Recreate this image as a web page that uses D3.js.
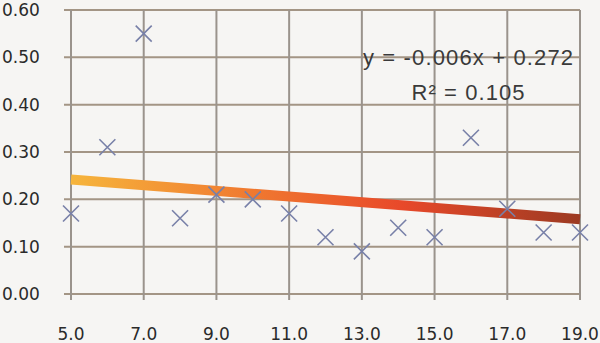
<!DOCTYPE html>
<html>
<head>
<meta charset="utf-8">
<script src="https://cdn.jsdelivr.net/npm/d3@7/dist/d3.min.js"></script>
<style>
  body { margin: 0; background: #f6f5f3; }
  svg { display: block; }
</style>
</head>
<body>
<div id="chart"></div>
<script>
// data
const xValues = [5, 6, 7, 8, 9, 10, 11, 12, 13, 14, 15, 16, 17, 18, 19];
const yValues = [0.17, 0.31, 0.55, 0.16, 0.21, 0.20, 0.17, 0.12, 0.09, 0.14, 0.12, 0.33, 0.18, 0.13, 0.13];
const xTicks = [5, 7, 9, 11, 13, 15, 17, 19];
const yTicks = [0, 0.1, 0.2, 0.3, 0.4, 0.5, 0.6];
const trendSlope = -0.006;
const trendIntercept = 0.272;
const equationLines = ["y = -0.006x + 0.272", "R\u00b2 = 0.105"];

const w = 600;
const h = 343;

const x = d3.scaleLinear().domain([5, 19]).range([71, 580]);
const y = d3.scaleLinear().domain([0, 0.6]).range([294, 10]);

const svg = d3.select("#chart")
      .append("svg")
      .attr("width", w)
      .attr("height", h)
      .style("background-color", "#f6f5f3");

//grid
svg.selectAll(".hgrid")
      .data(yTicks)
      .enter()
      .append("line")
      .attr("x1", x(5) - 7)
      .attr("x2", x(19))
      .attr("y1", (d) => y(d))
      .attr("y2", (d) => y(d))
      .style("stroke", "#a39585")
      .style("stroke-width", 2);

svg.selectAll(".vgrid")
      .data(xTicks)
      .enter()
      .append("line")
      .attr("x1", (d) => x(d))
      .attr("x2", (d) => x(d))
      .attr("y1", y(0.6))
      .attr("y2", y(0) + 6)
      .style("stroke", "#9a938c")
      .style("stroke-width", 2);

//axis labels
svg.selectAll(".ylab")
      .data(yTicks)
      .enter()
      .append("text")
      .attr("x", 2)
      .attr("y", (d) => y(d))
      .attr("dy", "0.36em")
      .style("font-family", "DejaVu Sans")
      .style("font-size", "17px")
      .style("fill", "#2a2a2a")
      .text((d) => d3.format(".2f")(d));

svg.selectAll(".xlab")
      .data(xTicks)
      .enter()
      .append("text")
      .attr("x", (d) => x(d))
      .attr("y", 340)
      .attr("text-anchor", "middle")
      .style("font-family", "DejaVu Sans")
      .style("font-size", "17px")
      .style("fill", "#2a2a2a")
      .text((d) => d3.format(".1f")(d));

//trend line with gradient
const grad = svg.append("defs").append("linearGradient")
      .attr("id", "trend")
      .attr("gradientUnits", "userSpaceOnUse")
      .attr("x1", x(5)).attr("x2", x(19))
      .attr("y1", 0).attr("y2", 0);
grad.append("stop").attr("offset", "0%").attr("stop-color", "#f6b53c");
grad.append("stop").attr("offset", "35%").attr("stop-color", "#f07a30");
grad.append("stop").attr("offset", "65%").attr("stop-color", "#e8492a");
grad.append("stop").attr("offset", "100%").attr("stop-color", "#9c3a22");

svg.append("line")
      .attr("x1", x(5))
      .attr("y1", y(trendSlope * 5 + trendIntercept))
      .attr("x2", x(19))
      .attr("y2", y(trendSlope * 19 + trendIntercept))
      .style("stroke", "url(#trend)")
      .style("stroke-width", 10);

//points as x marks
const pts = xValues.map((d, i) => ({ x: d, y: yValues[i] }));
const s = 8;
svg.selectAll(".pt")
      .data(pts)
      .enter()
      .append("path")
      .attr("class", "pt")
      .attr("d", (d) => {
            const cx = x(d.x), cy = y(d.y);
            return `M${cx - s},${cy - s}L${cx + s},${cy + s}M${cx - s},${cy + s}L${cx + s},${cy - s}`;
      })
      .style("stroke", "#7880a8")
      .style("stroke-width", 1.6)
      .style("fill", "none");

//equation
const eqWidths = [210, 113];
svg.selectAll(".eq")
      .data(equationLines)
      .enter()
      .append("text")
      .attr("x", 468)
      .attr("y", (d, i) => 65 + i * 35)
      .attr("text-anchor", "middle")
      .attr("textLength", (d, i) => eqWidths[i])
      .style("font-family", "Liberation Sans")
      .style("font-size", "22px")
      .style("fill", "#3a3a3a")
      .text((d) => d);
</script>
</body>
</html>
